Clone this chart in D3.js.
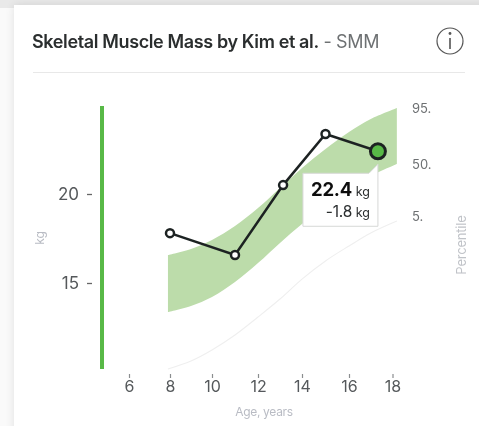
<!DOCTYPE html>
<html>
<head>
<meta charset="utf-8">
<script src="https://cdn.jsdelivr.net/npm/d3@7"></script>
<style>
html, body { margin: 0; padding: 0; background: #fff; overflow: hidden; }
svg { display: block; }
text { font-family: Inter, "Noto Sans", sans-serif; }
</style>
</head>
<body>
<svg width="479" height="426">
    <defs>
        <filter id="blur" x="-10%" y="-10%" width="120%" height="120%">
            <feGaussianBlur stdDeviation="5"></feGaussianBlur>
        </filter>
        <filter id="soft" x="-10%" y="-10%" width="120%" height="120%">
            <feGaussianBlur stdDeviation="0.4"></feGaussianBlur>
        </filter>
    </defs>
    <g id="card"></g>
    <g id="plot" filter="url(#soft)"></g>
</svg>
<script>
const width = 479;
const height = 426;

const xTicks = [6, 8, 10, 12, 14, 16, 18];
const yTicks = [15, 20];

// percentile band
const bandAges = [7.9, 9, 10, 11, 12, 13, 14, 15, 16, 17, 18.2];
const p95 = [16.57, 16.91, 17.42, 18.2, 19.21, 20.34, 21.46, 22.53, 23.48, 24.21, 24.83];
const p50 = [13.37, 13.71, 14.21, 15.06, 16.12, 17.25, 18.31, 19.33, 20.22, 21.01, 21.69];
const p5 = [10.17, 10.62, 11.24, 12.08, 13.09, 14.1, 15.22, 16.24, 17.08, 17.81, 18.48];

const pointAges = [8, 11, 13.14, 15, 17.33];
const pointValues = [17.8, 16.57, 20.5, 23.37, 22.4];

const percentileLabels = ["95.", "50.", "5."];
const tooltipLines = [{ value: "22.4", unit: " kg" }, { value: "-1.8", unit: " kg" }];

const green = "#58b947";
const dark = "#1f2423";

// the ticks are not spaced quite evenly in the original
const xScale = d3.scaleLinear()
    .domain(xTicks)
    .range([129, 170, 212, 258, 302, 349, 392.5]);

const yScale = d3.scaleLinear()
    .domain([15, 20])
    .range([283, 194]);

const svg = d3.select("svg");
const card = svg.select("#card");
const plot = svg.select("#plot");

// page background and card
card.append("rect")
    .attr("width", width)
    .attr("height", height)
    .attr("fill", "#e9e9e9");

card.append("rect")
    .attr("x", 0)
    .attr("y", 8)
    .attr("width", 14)
    .attr("height", height)
    .attr("fill", "#fafafa");

card.append("rect")
    .attr("x", 14)
    .attr("y", 5)
    .attr("width", width)
    .attr("height", height + 20)
    .attr("fill", "#000")
    .attr("opacity", 0.1)
    .attr("filter", "url(#blur)");

card.append("rect")
    .attr("x", 14)
    .attr("y", 5)
    .attr("width", width)
    .attr("height", height)
    .attr("fill", "#fff");

// header
const title = plot.append("text")
    .attr("x", 32)
    .attr("y", 48)
    .attr("font-size", 18)
    .attr("letter-spacing", -0.37);

title.append("tspan")
    .attr("font-weight", 600)
    .attr("fill", "#2b2e2f")
    .text("Skeletal Muscle Mass by Kim et al.");

title.append("tspan")
    .attr("fill", "#6e7173")
    .attr("font-weight", 400)
    .text(" - SMM");

plot.append("line")
    .attr("x1", 33)
    .attr("x2", 465)
    .attr("y1", 72.5)
    .attr("y2", 72.5)
    .attr("stroke", "#e8e8e8");

// info icon
plot.append("circle")
    .attr("cx", 450)
    .attr("cy", 41)
    .attr("r", 13)
    .attr("fill", "none")
    .attr("stroke", "#555")
    .attr("stroke-width", 1.2);

plot.append("circle")
    .attr("cx", 450)
    .attr("cy", 33.5)
    .attr("r", 1.4)
    .attr("fill", "#555");

plot.append("rect")
    .attr("x", 449.2)
    .attr("y", 38)
    .attr("width", 1.6)
    .attr("height", 11)
    .attr("fill", "#555");

// band and 5th percentile line
const bandData = bandAges.map((age, i) => ({ age: age, hi: p95[i], lo: p50[i], low: p5[i] }));

const area = d3.area()
    .x(d => xScale(d.age))
    .y0(d => yScale(d.lo))
    .y1(d => yScale(d.hi))
    .curve(d3.curveCatmullRom);

plot.append("path")
    .datum(bandData)
    .attr("d", area)
    .attr("fill", "#bcdcaa");

const p5Line = d3.line()
    .x(d => xScale(d.age))
    .y(d => yScale(d.low))
    .curve(d3.curveCatmullRom);

plot.append("path")
    .datum(bandData)
    .attr("d", p5Line)
    .attr("fill", "none")
    .attr("stroke", "#efefef")
    .attr("stroke-width", 1.1);

// green bar on the left
plot.append("line")
    .attr("x1", 102)
    .attr("x2", 102)
    .attr("y1", 106)
    .attr("y2", yScale(p5[0]))
    .attr("stroke", green)
    .attr("stroke-width", 4);

// x axis
const xAxis = d3.axisBottom(xScale)
    .tickValues(xTicks)
    .tickSize(4)
    .tickPadding(3)
    .tickFormat(d => d);

const xG = plot.append("g")
    .attr("transform", "translate(0,374)")
    .call(xAxis);

xG.select(".domain").remove();
xG.selectAll(".tick line").attr("stroke", "#8a8d8f").attr("stroke-width", 1.2);
xG.selectAll(".tick text")
    .attr("font-family", "Inter, sans-serif")
    .attr("font-size", 16)
    .attr("fill", "#55595b");

plot.append("text")
    .attr("x", 264)
    .attr("y", 416)
    .attr("text-anchor", "middle")
    .attr("font-size", 12)
    .attr("letter-spacing", -0.3)
    .attr("fill", "#b9bcc4")
    .text("Age, years");

// y axis labels
plot.selectAll(".ylab")
    .data(yTicks)
    .enter()
    .append("text")
    .attr("class", "ylab")
    .attr("x", 79)
    .attr("y", d => yScale(d) + 6)
    .attr("text-anchor", "end")
    .attr("font-size", 17)
    .attr("fill", "#55595b")
    .text(d => d);

plot.selectAll(".ydash")
    .data(yTicks)
    .enter()
    .append("line")
    .attr("class", "ydash")
    .attr("x1", 87)
    .attr("x2", 92)
    .attr("y1", d => yScale(d) + 0.5)
    .attr("y2", d => yScale(d) + 0.5)
    .attr("stroke", "#666")
    .attr("stroke-width", 1.3);

plot.append("text")
    .attr("transform", "translate(44,238) rotate(-90)")
    .attr("text-anchor", "middle")
    .attr("font-size", 12)
    .attr("fill", "#b9bcc4")
    .text("kg");

// percentile labels on the right
plot.selectAll(".plab")
    .data(percentileLabels)
    .enter()
    .append("text")
    .attr("class", "plab")
    .attr("x", 412)
    .attr("y", (d, i) => [113, 169, 221][i])
    .attr("font-size", 13)
    .attr("fill", "#6d7072")
    .text(d => d);

plot.append("text")
    .attr("transform", "translate(466,245) rotate(-90)")
    .attr("text-anchor", "middle")
    .attr("font-size", 13)
    .attr("letter-spacing", -0.2)
    .attr("fill", "#c0c3c8")
    .text("Percentile");

// measured line
const points = pointAges.map((age, i) => ({ age: age, value: pointValues[i] }));
const last = points[points.length - 1];

const valueLine = d3.line()
    .x(d => xScale(d.age))
    .y(d => yScale(d.value));

plot.append("path")
    .datum(points)
    .attr("d", valueLine)
    .attr("fill", "none")
    .attr("stroke", dark)
    .attr("stroke-width", 2.5);

plot.selectAll(".pt")
    .data(points.slice(0, -1))
    .enter()
    .append("circle")
    .attr("class", "pt")
    .attr("cx", d => xScale(d.age))
    .attr("cy", d => yScale(d.value))
    .attr("r", 4)
    .attr("fill", "#fff")
    .attr("stroke", dark)
    .attr("stroke-width", 2.5);

plot.append("circle")
    .attr("cx", xScale(last.age))
    .attr("cy", yScale(last.value))
    .attr("r", 7.5)
    .attr("fill", green)
    .attr("stroke", dark)
    .attr("stroke-width", 3);

// tooltip hanging under the last point
const tipX = xScale(last.age);
const tipY = yScale(last.value);

plot.append("path")
    .attr("d", `M${tipX - 75},${tipY + 22} H${tipX - 9} L${tipX},${tipY + 13} V${tipY + 75} H${tipX - 75} Z`)
    .attr("fill", "#fff")
    .attr("stroke", "#d6d8d6")
    .attr("stroke-linejoin", "round");

tooltipLines.forEach((d, i) => {
    const t = plot.append("text")
        .attr("x", tipX - 8)
        .attr("y", tipY + (i === 0 ? 45 : 66))
        .attr("text-anchor", "end");

    t.append("tspan")
        .attr("font-size", i === 0 ? 18.5 : 15.5)
        .attr("font-weight", i === 0 ? 700 : 400)
        .attr("letter-spacing", -0.2)
        .attr("fill", i === 0 ? "#111" : "#2b2e2f")
        .text(d.value);

    t.append("tspan")
        .attr("font-size", 12.5)
        .attr("fill", "#2b2e2f")
        .text(d.unit);
});
</script>
</body>
</html>
